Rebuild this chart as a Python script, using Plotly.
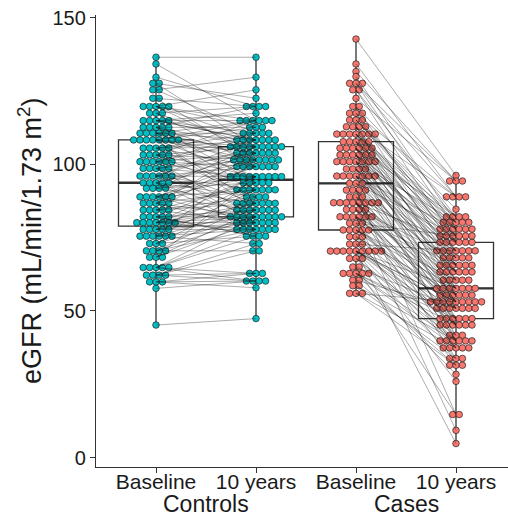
import numpy as np
import plotly.graph_objects as go

# ---------------- data (eGFR, mL/min/1.73 m^2), one entry per subject ----------------
categories = ["Baseline", "10 years", "Baseline", "10 years"]
groups = ["Controls", "Cases"]

ctrl_baseline = [
    136.5, 134.2, 129.7, 127.6, 127.6, 125.4, 125.4, 122.5, 122.5, 119.7,
    119.7, 119.7, 119.7, 119.7, 117.4, 117.4, 117.4, 114.9, 114.9, 114.9,
    114.9, 114.9, 112.6, 112.6, 112.6, 112.6, 112.6, 110.6, 110.6, 110.6,
    110.6, 110.6, 110.6, 108.3, 108.3, 108.3, 108.3, 108.3, 108.3, 108.3,
    108.3, 105.5, 105.5, 105.5, 105.5, 105.5, 103.2, 103.2, 103.2, 103.2,
    103.2, 100.9, 100.9, 100.9, 100.9, 100.9, 100.9, 98.6, 98.6, 98.6,
    98.6, 98.6, 96.0, 96.0, 96.0, 96.0, 96.0, 96.0, 93.7, 93.7,
    93.7, 93.7, 93.7, 91.8, 91.8, 91.8, 91.8, 88.9, 88.9, 88.9,
    88.9, 88.9, 88.9, 86.7, 86.7, 86.7, 86.7, 86.7, 84.4, 84.4,
    84.4, 84.4, 84.4, 82.1, 82.1, 82.1, 82.1, 82.1, 80.1, 80.1,
    80.1, 80.1, 80.1, 80.1, 80.1, 77.8, 77.8, 77.8, 77.8, 77.8,
    75.5, 75.5, 75.5, 75.5, 75.5, 75.5, 73.0, 73.0, 73.0, 70.5,
    70.5, 70.5, 70.5, 68.3, 68.3, 68.3, 64.8, 64.8, 64.8, 64.8,
    64.8, 62.2, 62.2, 62.2, 62.2, 59.9, 59.9, 59.9, 57.7, 45.2,
]
ctrl_10y = [
    136.5, 114.9, 119.7, 122.5, 106.0, 129.7, 110.6, 119.7, 101.5, 112.6,
    125.4, 108.3, 103.8, 114.9, 119.7, 106.0, 99.2, 117.4, 110.6, 108.3,
    114.9, 108.3, 101.5, 119.7, 106.0, 93.7, 112.6, 103.8, 114.9, 91.3,
    108.3, 99.2, 110.6, 86.7, 114.9, 106.0, 101.5, 95.8, 112.6, 103.8,
    84.4, 108.3, 110.6, 99.2, 91.3, 106.0, 101.5, 114.9, 95.8, 88.9,
    106.0, 82.1, 103.8, 108.3, 93.7, 110.6, 99.2, 86.7, 101.5, 95.8,
    103.8, 80.1, 108.3, 91.3, 99.2, 84.4, 106.0, 95.8, 77.8, 101.5,
    88.9, 103.8, 82.1, 95.8, 106.0, 93.7, 86.7, 99.2, 80.1, 91.3,
    101.5, 84.4, 95.8, 77.8, 106.0, 82.1, 91.3, 99.2, 86.7, 103.8,
    80.1, 93.7, 88.9, 75.5, 84.4, 82.1, 95.8, 75.5, 91.3, 86.7,
    80.1, 82.1, 77.8, 95.8, 84.4, 80.1, 77.8, 86.7, 82.1, 93.7,
    91.3, 77.8, 84.4, 80.1, 101.5, 73.0, 82.1, 88.9, 75.5, 86.7,
    77.8, 82.1, 70.5, 80.1, 84.4, 95.8, 62.8, 75.5, 60.2, 77.8,
    82.1, 62.8, 60.2, 73.0, 70.5, 60.2, 62.8, 57.9, 60.2, 47.4,
]
case_baseline = [
    142.7, 134.2, 131.6, 129.9, 127.6, 127.6, 127.6, 125.4, 125.4, 122.5, 119.7, 119.7,
    117.4, 117.4, 117.4, 115.1, 115.1, 115.1, 112.8, 112.8, 112.8, 112.8, 110.3, 110.3,
    110.3, 110.3, 110.3, 110.3, 110.3, 107.7, 107.7, 107.7, 107.7, 107.7, 105.5, 105.5,
    105.5, 105.5, 105.5, 105.5, 103.2, 103.2, 103.2, 103.2, 103.2, 103.2, 100.9, 100.9,
    100.9, 100.9, 100.9, 100.9, 100.9, 98.4, 98.4, 98.4, 98.4, 96.0, 96.0, 96.0,
    96.0, 96.0, 96.0, 96.0, 93.5, 93.5, 93.5, 91.2, 91.2, 91.2, 91.2, 88.9,
    88.9, 88.9, 86.9, 86.9, 86.9, 86.9, 86.9, 86.9, 86.9, 86.9, 84.6, 84.6,
    84.6, 84.6, 82.1, 82.1, 82.1, 82.1, 82.1, 82.1, 79.9, 79.9, 79.9, 77.6,
    77.6, 77.6, 77.6, 77.6, 75.3, 75.3, 75.3, 72.8, 72.8, 72.8, 70.4, 70.4,
    70.4, 70.4, 70.4, 70.4, 70.4, 70.4, 70.4, 67.9, 67.9, 67.9, 65.0, 65.0,
    62.8, 62.8, 62.8, 62.8, 62.8, 60.5, 60.5, 58.6, 58.6, 56.0, 56.0, 56.0,
]
case_10y = [
    96.2, 88.9, 94.3, 80.2, 94.3, 77.9, 88.9, 73.4, 82.1, 94.3, 70.5, 84.7,
    88.9, 75.6, 65.6, 80.2, 82.1, 77.9, 68.1, 88.9, 60.5, 73.4, 77.9, 57.7,
    82.1, 70.5, 75.6, 63.3, 80.2, 55.4, 77.9, 65.6, 73.4, 80.2, 70.5, 68.1,
    75.6, 60.5, 82.1, 47.4, 73.4, 65.6, 57.7, 77.9, 53.1, 70.5, 63.3, 39.8,
    80.2, 68.1, 55.4, 75.6, 45.2, 63.3, 70.5, 53.1, 60.5, 77.9, 50.9, 65.6,
    57.7, 73.4, 41.7, 68.1, 53.1, 63.3, 75.6, 47.4, 14.7, 55.4, 65.6, 50.9,
    70.5, 57.7, 37.4, 63.3, 53.1, 60.5, 45.2, 73.4, 55.4, 39.8, 68.1, 50.9,
    57.7, 33.8, 65.6, 53.1, 47.4, 9.3, 63.3, 55.4, 41.7, 75.6, 45.2, 60.5,
    50.9, 57.7, 37.4, 53.1, 47.4, 31.5, 55.4, 39.8, 45.2, 70.5, 26.0, 53.1,
    57.7, 50.9, 4.8, 47.4, 45.2, 37.4, 53.1, 41.7, 39.8, 33.8, 50.9, 14.7,
    47.4, 39.8, 37.4, 28.4, 45.2, 31.5, 50.9, 33.8, 39.8, 31.5, 37.4, 53.1,
]
y_ticks = [0, 50, 100, 150]

# ---------------- styling ----------------
TEAL = "#00BFC4"
SALMON = "#F8766D"
FONT = "Liberation Sans, Arial, sans-serif"
DX = 0.064          # horizontal spacing between stacked dots (x units)

fig = go.Figure()

positions = [1, 2, 3, 4]
series = [ctrl_baseline, ctrl_10y, case_baseline, case_10y]
colors = [TEAL, TEAL, SALMON, SALMON]

# boxes
for pos, vals in zip(positions, series):
    fig.add_trace(go.Box(
        y=vals, x=[pos] * len(vals), width=0.75, boxpoints=False,
        fillcolor="rgba(0,0,0,0)", line=dict(color="#333333", width=1.3),
        whiskerwidth=0, hoverinfo="skip", showlegend=False,
    ))
    med = float(np.median(vals))
    fig.add_trace(go.Scatter(
        x=[pos - 0.375, pos + 0.375], y=[med, med], mode="lines",
        line=dict(color="#333333", width=2.4), hoverinfo="skip", showlegend=False,
    ))


def swarm(center, vals):
    counts = {}
    for v in vals:
        counts[v] = counts.get(v, 0) + 1
    seen = {}
    xs = []
    for v in vals:
        i = seen.get(v, 0)
        seen[v] = i + 1
        k = counts[v]
        xs.append(center + (i - (k - 1) / 2) * DX)
    return xs


# dots
for pos, vals, col in zip(positions, series, colors):
    fig.add_trace(go.Scatter(
        x=swarm(pos, vals), y=vals, mode="markers",
        marker=dict(size=6.6, color=col, line=dict(color="#222222", width=0.7)),
        hoverinfo="skip", showlegend=False,
    ))

# paired lines
for (p0, p1, a, b) in [(1, 2, ctrl_baseline, ctrl_10y), (3, 4, case_baseline, case_10y)]:
    lx, ly = [], []
    for v0, v1 in zip(a, b):
        lx += [p0, p1, None]
        ly += [v0, v1, None]
    fig.add_trace(go.Scatter(
        x=lx, y=ly, mode="lines", line=dict(color="rgba(20,20,20,0.42)", width=0.85),
        hoverinfo="skip", showlegend=False,
    ))

fig.update_layout(
    width=508, height=517,
    margin=dict(l=96, r=0, t=15, b=50),
    paper_bgcolor="white", plot_bgcolor="white",
    boxmode="overlay",
    font=dict(family=FONT, color="#1a1a1a"),
    xaxis=dict(
        range=[0.4, 4.52], tickmode="array", tickvals=positions, ticktext=categories,
        showline=True, linecolor="#333333", linewidth=1.3,
        ticks="outside", ticklen=5, tickcolor="#333333", tickwidth=1.2,
        ticklabelstandoff=-9,
        tickfont=dict(size=21, family=FONT, color="#1a1a1a"),
        showgrid=False, zeroline=False,
    ),
    yaxis=dict(
        range=[-3.2, 150.9], tickmode="array", tickvals=y_ticks,
        showline=True, linecolor="#333333", linewidth=1.3,
        ticks="outside", ticklen=5, tickcolor="#333333", tickwidth=1.2,
        tickfont=dict(size=20, family=FONT, color="#1a1a1a"),
        showgrid=False, zeroline=False,
    ),
    annotations=[
        dict(text="eGFR (mL/min/1.73 m<sup>2</sup>)", xref="paper", yref="paper",
             x=-0.16, y=0.5, xanchor="center", yanchor="middle", textangle=-90,
             showarrow=False, font=dict(size=27, family=FONT, color="#1a1a1a")),
        dict(text=groups[0], xref="x", yref="paper", x=1.5, y=-0.082,
             xanchor="center", yanchor="middle", showarrow=False,
             font=dict(size=23, family=FONT, color="#1a1a1a")),
        dict(text=groups[1], xref="x", yref="paper", x=3.5, y=-0.082,
             xanchor="center", yanchor="middle", showarrow=False,
             font=dict(size=23, family=FONT, color="#1a1a1a")),
    ],
)

fig.write_html("out.html", config={"displayModeBar": False},
               post_script="document.body.style.margin='0';")
